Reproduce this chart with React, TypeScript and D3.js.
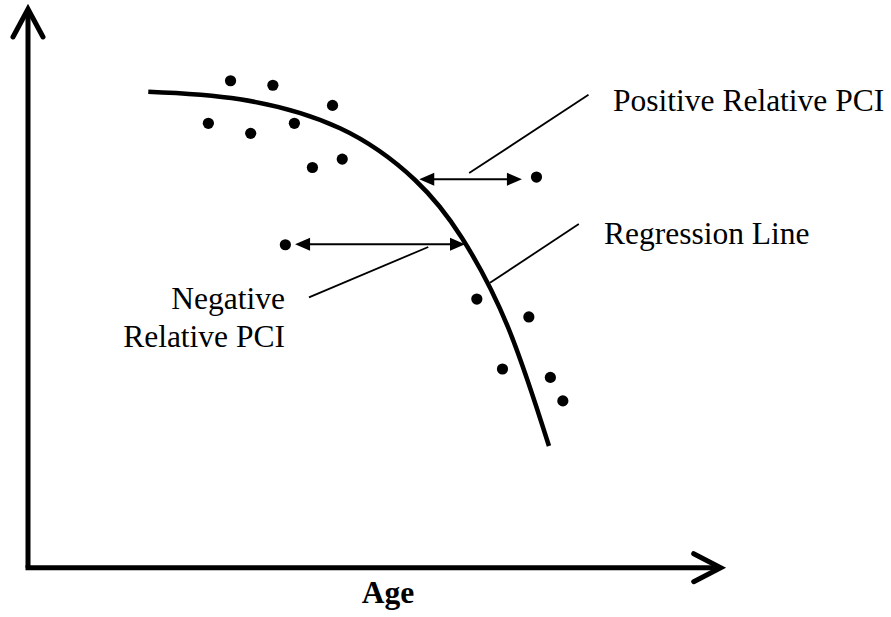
import React from "react";
import * as d3 from "d3";

// Conceptual chart: data in abstract units (0..100 on both axes)
const dotsX = [29.2, 35.3, 43.9, 26.0, 32.1, 38.4, 41.0, 45.3, 73.3, 37.1, 64.7, 72.2, 68.4, 75.3, 77.1];
const dotsY = [87.0, 86.2, 82.6, 79.4, 77.6, 79.4, 71.5, 73.0, 69.8, 57.7, 48.0, 44.8, 35.5, 34.0, 29.8];

const curveX = [17.34, 30.56, 44.98, 55.79, 62.56, 69.19, 75.1];
const curveY = [85.05, 83.69, 78.51, 69.27, 58.91, 42.99, 21.74];

// double arrows: [x1, x2, y]
const posArrow = [56.4, 71.2, 69.4];
const negArrow = [38.5, 63.0, 57.8];

// leader lines: [x1, y1, x2, y2]
const posLeader = [63.6, 70.5, 80.8, 84.5];
const negLeader = [40.5, 48.3, 57.7, 57.3];
const regLeader = [66.6, 50.9, 79.4, 61.4];

const labelPositive = "Positive Relative PCI";
const labelRegression = "Regression Line";
const labelNegative = ["Negative", "Relative PCI"];
const axisLabel = "Age";

const W = 891;
const H = 617;

export default function App() {
  const x = d3.scaleLinear().domain([0, 100]).range([28, 721.7]);
  const y = d3.scaleLinear().domain([0, 100]).range([567.7, 8]);

  const curvePts: [number, number][] = curveX.map((v, i) => [x(v), y(curveY[i])]);
  const line = d3.line().curve(d3.curveNatural);
  const curvePath = line(curvePts) || "";

  const fontFamily = "Liberation Serif, DejaVu Serif, serif";

  const tri = (tipX: number, tipY: number, dir: number) => {
    const len = 15;
    const hw = 6.5;
    return `M${tipX},${tipY} L${tipX - dir * len},${tipY - hw} L${tipX - dir * len},${tipY + hw} Z`;
  };

  const dblArrow = (a: number[]) => {
    const x1 = x(a[0]);
    const x2 = x(a[1]);
    const yy = y(a[2]);
    return (
      <g>
        <line x1={x1 + 10} y1={yy} x2={x2 - 10} y2={yy} stroke="#000" strokeWidth={2} />
        <path d={tri(x1, yy, -1)} fill="#000" />
        <path d={tri(x2, yy, 1)} fill="#000" />
      </g>
    );
  };

  const leader = (l: number[]) => (
    <line x1={x(l[0])} y1={y(l[1])} x2={x(l[2])} y2={y(l[3])} stroke="#000" strokeWidth={1.8} />
  );

  const x0 = x(0);
  const y0 = y(0);
  const xEnd = x(100);
  const yEnd = y(100);

  return (
    <svg
      width={W}
      height={H}
      style={{ position: "absolute", left: 0, top: 0, background: "#fff" }}
      xmlns="http://www.w3.org/2000/svg"
    >
      <rect width={W} height={H} fill="#fff" />
      {/* axes */}
      <line x1={x0} y1={y0} x2={x0} y2={yEnd + 2} stroke="#000" strokeWidth={5} />
      <polyline
        points={`${x0 - 15},${yEnd + 29} ${x0},${yEnd + 1} ${x0 + 15},${yEnd + 29}`}
        fill="none"
        stroke="#000"
        strokeWidth={5}
        strokeLinecap="round"
        strokeLinejoin="miter"
      />
      <line x1={x0 - 2.5} y1={y0} x2={xEnd - 2} y2={y0} stroke="#000" strokeWidth={5} />
      <polyline
        points={`${xEnd - 28},${y0 - 14} ${xEnd - 1},${y0} ${xEnd - 28},${y0 + 14}`}
        fill="none"
        stroke="#000"
        strokeWidth={5}
        strokeLinecap="round"
        strokeLinejoin="miter"
      />

      {/* regression curve */}
      <path d={curvePath} fill="none" stroke="#000" strokeWidth={4.5} />

      {/* dots */}
      {dotsX.map((v, i) => (
        <circle key={i} cx={x(v)} cy={y(dotsY[i])} r={5.6} fill="#000" />
      ))}

      {/* arrows */}
      {dblArrow(posArrow)}
      {dblArrow(negArrow)}

      {/* leaders */}
      {leader(posLeader)}
      {leader(negLeader)}
      {leader(regLeader)}

      {/* labels */}
      <g fontFamily={fontFamily} fill="#000" fontSize={31.5}>
        <text x={613} y={111}>{labelPositive}</text>
        <text x={604} y={244}>{labelRegression}</text>
        <text x={285} y={309} textAnchor="end">{labelNegative[0]}</text>
        <text x={285} y={347} textAnchor="end">{labelNegative[1]}</text>
        <text x={388} y={603} fontWeight="bold" textAnchor="middle">{axisLabel}</text>
      </g>
    </svg>
  );
}
